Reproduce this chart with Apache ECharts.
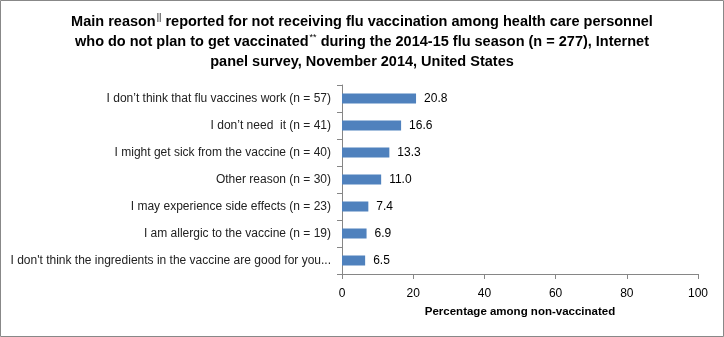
<!DOCTYPE html>
<html><head><meta charset="utf-8">
<script src="https://cdn.jsdelivr.net/npm/echarts@6/dist/echarts.min.js"></script>
<style>html,body{margin:0;padding:0;background:#fff}#c{width:724px;height:337px}</style>
</head><body><div id="c"></div>
<script>
const categories = [
  "I don\u2019t think that flu vaccines work (n = 57)",
  "I don\u2019t need  it (n = 41)",
  "I might get sick from the vaccine (n = 40)",
  "Other reason (n = 30)",
  "I may experience side effects (n = 23)",
  "I am allergic to the vaccine (n = 19)",
  "I don't think the ingredients in the vaccine are good for you..."
];
const values = [20.8, 16.6, 13.3, 11.0, 7.4, 6.9, 6.5];
const xTicks = [0, 20, 40, 60, 80, 100];

const chart = echarts.init(document.getElementById('c'));
const F = "Liberation Sans";
chart.setOption({
  animation: false,
  textStyle: {fontFamily: F},
  title: {
    left: 'center', top: 7,
    text: "{b|Main reason}{s|||}{b| reported for not receiving flu vaccination among health care personnel}\n{b|who do not plan to get vaccinated}{s|**}{b| during the 2014-15 flu season (n = 277), Internet}\n{b|panel survey, November 2014, United States}",
    textStyle: {
      fontFamily: F, fontSize: 14.5, fontWeight: 'bold', color: '#000', lineHeight: 20,
      rich: {
        b: {fontFamily: F, fontSize: 14.5, fontWeight: 'bold', color: '#000', lineHeight: 20},
        s: {fontFamily: F, fontSize: 9, fontWeight: 'normal', color: '#000', lineHeight: 20, padding: [0,0,9,1]}
      }
    }
  },
  graphic: [{type: 'rect', shape: {x: 0.5, y: 0.5, width: 723, height: 336}, style: {fill: 'none', stroke: '#888', lineWidth: 1}, silent: true}],
  grid: {left: 342, right: 26, top: 85, bottom: 63, containLabel: false},
  xAxis: {
    type: 'value', min: 0, max: 100, interval: 20,
    axisLine: {show: true, lineStyle: {color: '#868686'}},
    axisTick: {show: true, length: 5, lineStyle: {color: '#868686'}},
    splitLine: {show: false},
    axisLabel: {color: '#000', fontSize: 12, margin: 14, customValues: xTicks},
    name: 'Percentage among non-vaccinated', nameLocation: 'middle', nameGap: 32,
    nameTextStyle: {fontWeight: 'bold', fontSize: 11.5, color: '#000'}
  },
  yAxis: {
    type: 'category', inverse: true, data: categories,
    axisLine: {show: true, lineStyle: {color: '#868686'}},
    axisTick: {show: true, length: 5, lineStyle: {color: '#868686'}},
    axisLabel: {color: '#222', fontSize: 12, margin: 11}
  },
  series: [{
    type: 'bar', data: values, barWidth: 10,
    itemStyle: {color: '#4F81BD'},
    label: {show: true, position: 'right', distance: 8, color: '#000', fontSize: 12,
      formatter: p => p.value.toFixed(1)}
  }]
});
</script></body></html>
